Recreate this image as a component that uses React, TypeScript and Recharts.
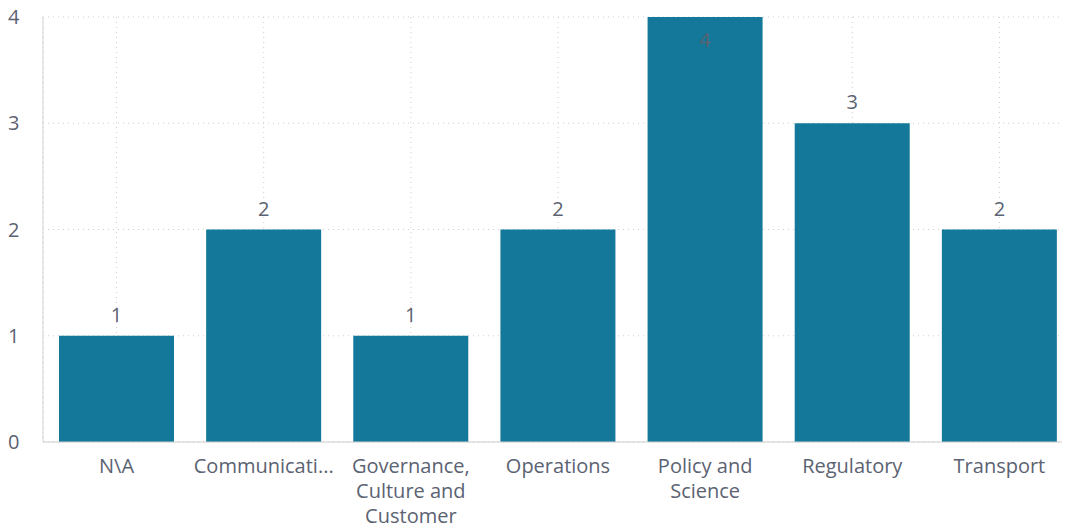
import { Bar, BarChart, CartesianGrid, LabelList, XAxis, YAxis } from "recharts";

const categories = [
  "N\\A",
  "Communications",
  "Governance, Culture and Customer",
  "Operations",
  "Policy and Science",
  "Regulatory",
  "Transport",
];
const counts = [1, 2, 1, 2, 4, 3, 2];
const yTicks = [0, 1, 2, 3, 4];

const chartData = categories.map((name, i) => ({ name, value: counts[i] }));

const FONT = "'Open Sans', 'Noto Sans', sans-serif";
const TEXT_COLOR = "#5b6272";
const BAR_COLOR = "#137899";
const FONT_SIZE = 20;

// 文字幅を測る
let ctx: CanvasRenderingContext2D | null = null;
const measure = (s: string) => {
  if (!ctx) {
    ctx = document.createElement("canvas").getContext("2d");
    if (ctx) ctx.font = `${FONT_SIZE}px 'Open Sans'`;
  }
  return ctx ? ctx.measureText(s).width : s.length * 10;
};

const wrapLabel = (text: string, maxWidth: number): string[] => {
  const words = text.split(" ");
  const lines: string[] = [];
  let cur = "";
  for (const w of words) {
    const next = cur ? `${cur} ${w}` : w;
    if (measure(next) <= maxWidth) {
      cur = next;
    } else {
      if (cur) lines.push(cur);
      cur = w;
    }
  }
  if (cur) lines.push(cur);
  return lines.map((line) => {
    if (measure(line) <= maxWidth) return line;
    let s = line;
    while (s.length > 1 && measure(`${s}...`) > maxWidth) s = s.slice(0, -1);
    return `${s}...`;
  });
};

const XTick = ({ x, y, payload }: any) => {
  const lines = wrapLabel(payload.value, 145);
  return (
    <text
      x={x}
      y={y}
      textAnchor="middle"
      fill={TEXT_COLOR}
      fontSize={FONT_SIZE}
      fontFamily={FONT}
    >
      {lines.map((l, i) => (
        <tspan key={`${l}-${i}`} x={x} dy={i === 0 ? 23 : 25}>
          {l}
        </tspan>
      ))}
    </text>
  );
};

const YTick = ({ y, payload }: any) => (
  <text
    x={0}
    y={y}
    dy={7}
    textAnchor="start"
    fill={TEXT_COLOR}
    fontSize={FONT_SIZE}
    fontFamily={FONT}
  >
    {payload.value}
  </text>
);

// 上に入らないときはバーの中に表示
const ValueLabel = ({ x, y, width, value }: any) => {
  const ly = y - 14 < 10 ? y + 30 : y - 14;
  return (
    <text
      x={x + width / 2}
      y={ly}
      textAnchor="middle"
      fill={TEXT_COLOR}
      fontSize={FONT_SIZE}
      fontFamily={FONT}
    >
      {value}
    </text>
  );
};

export default function App() {
  return (
    <BarChart
      width={1066}
      height={521}
      data={chartData}
      margin={{ top: 9, right: 1, bottom: 0, left: 0 }}
      barCategoryGap={16}
      style={{ overflow: "visible" }}
    >
      <CartesianGrid stroke="#cfcfcf" strokeDasharray="1 4" />
      <XAxis
        dataKey="name"
        interval={0}
        height={87}
        tickLine={false}
        axisLine={{ stroke: "#cccccc" }}
        tick={<XTick />}
      />
      <YAxis
        domain={[0, 4]}
        ticks={yTicks}
        width={35}
        tickLine={false}
        axisLine={{ stroke: "#d4d4d4" }}
        tick={<YTick />}
      />
      <Bar dataKey="value" fill={BAR_COLOR} isAnimationActive={false}>
        <LabelList dataKey="value" content={<ValueLabel />} />
      </Bar>
    </BarChart>
  );
}
